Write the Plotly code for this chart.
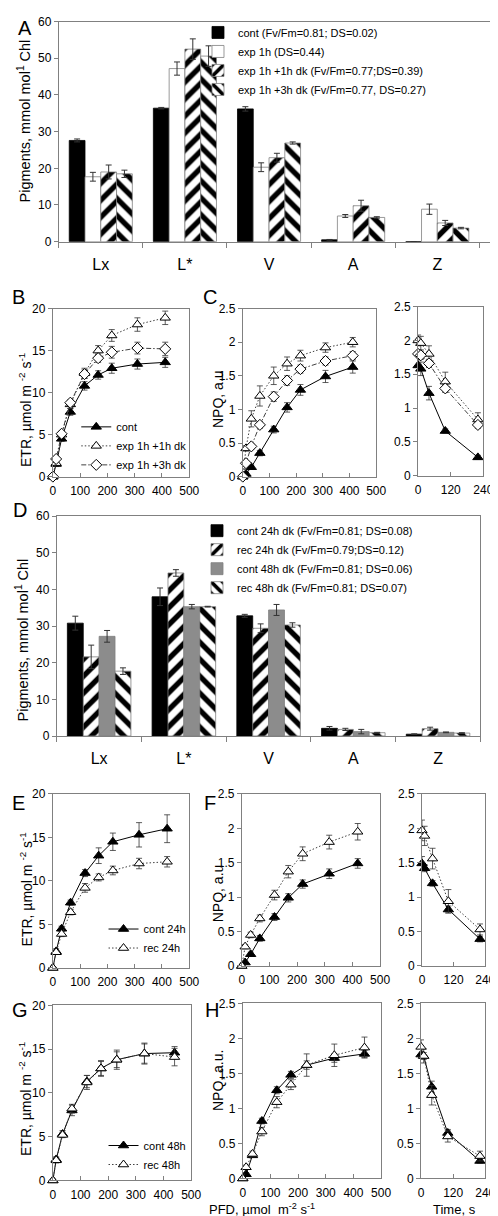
import plotly.graph_objects as go

W, H = 498, 1216

# ---------------- data ----------------
pig_cats = ["Lx", "L*", "V", "A", "Z"]

A_names = ["cont (Fv/Fm=0.81; DS=0.02)", "exp 1h (DS=0.44)",
           "exp 1h +1h dk (Fv/Fm=0.77;DS=0.39)", "exp 1h +3h dk (Fv/Fm=0.77, DS=0.27)"]
A_cont = [27.6, 36.4, 36.2, 0.5, 0.0]
A_cont_err = [0.4, 0.2, 0.6, 0.1, 0.0]
A_exp = [17.7, 47.2, 20.3, 7.0, 8.85]
A_exp_err = [1.2, 1.8, 1.2, 0.4, 1.4]
A_exp1 = [19.0, 52.5, 22.9, 9.8, 5.1]
A_exp1_err = [1.9, 2.8, 1.2, 1.5, 0.7]
A_exp3 = [18.5, 50.6, 26.9, 6.6, 3.7]
A_exp3_err = [1.0, 2.8, 0.3, 0.2, 0.2]

D_names = ["cont 24h dk (Fv/Fm=0.81; DS=0.08)", "rec 24h dk (Fv/Fm=0.79;DS=0.12)",
           "cont 48h dk (Fv/Fm=0.81; DS=0.06)", "rec 48h dk (Fv/Fm=0.81; DS=0.07)"]
D_cont24 = [30.8, 38.0, 32.8, 2.1, 0.5]
D_cont24_err = [1.9, 2.4, 0.4, 0.5, 0.1]
D_rec24 = [21.6, 44.5, 29.4, 1.8, 2.0]
D_rec24_err = [3.2, 0.9, 1.2, 0.3, 0.4]
D_cont48 = [27.2, 35.3, 34.4, 1.2, 1.0]
D_cont48_err = [1.6, 0.6, 1.5, 0.6, 0.1]
D_rec48 = [17.7, 35.3, 30.3, 0.9, 0.8]
D_rec48_err = [0.9, 0.1, 0.6, 0.1, 0.1]

# B / C
B_names = ["cont", "exp 1h +1h dk", "exp 1h +3h dk"]
pfd_B = [0, 12, 32, 64, 116, 166, 216, 310, 412]
etr_B_cont = [0, 1.5, 4.5, 7.7, 10.8, 12.1, 12.9, 13.4, 13.6]
etr_B_cont_err = [0, 0.3, 0.3, 0.4, 0.5, 0.5, 0.6, 0.6, 0.6]
etr_B_exp1 = [0, 1.6, 5.0, 8.6, 12.3, 15.0, 16.8, 18.1, 18.9]
etr_B_exp1_err = [0, 0.3, 0.3, 0.5, 0.6, 0.6, 0.7, 0.8, 0.8]
etr_B_exp3 = [0, 2.1, 5.1, 8.8, 12.2, 14.1, 14.8, 15.3, 15.2]
etr_B_exp3_err = [0, 0.2, 0.3, 0.3, 0.5, 0.5, 0.7, 0.7, 0.8]

npq_C_cont = [0, 0.04, 0.14, 0.35, 0.70, 1.03, 1.29, 1.49, 1.63]
npq_C_cont_err = [0, 0.02, 0.03, 0.04, 0.05, 0.07, 0.08, 0.09, 0.09]
npq_C_exp1 = [0, 0.42, 0.86, 1.20, 1.50, 1.68, 1.80, 1.92, 2.00]
npq_C_exp1_err = [0, 0.04, 0.12, 0.15, 0.13, 0.10, 0.08, 0.07, 0.07]
npq_C_exp3 = [0, 0.20, 0.45, 0.77, 1.19, 1.43, 1.60, 1.72, 1.80]
npq_C_exp3_err = [0, 0.03, 0.04, 0.05, 0.07, 0.07, 0.06, 0.06, 0.06]

time_C = [0, 10, 40, 100, 220]
rel_C_cont = [1.63, 1.58, 1.22, 0.66, 0.27]
rel_C_cont_err = [0.08, 0.10, 0.10, 0.03, 0.03]
rel_C_exp1 = [2.00, 1.96, 1.80, 1.39, 0.83]
rel_C_exp1_err = [0.08, 0.10, 0.12, 0.14, 0.10]
rel_C_exp3 = [1.80, 1.78, 1.66, 1.29, 0.75]
rel_C_exp3_err = [0.06, 0.06, 0.06, 0.06, 0.05]

# E / F
E_names = ["cont 24h", "rec 24h"]
pfd_E = [0, 12, 32, 65, 118, 168, 220, 316, 419]
etr_E_cont = [0, 1.9, 4.5, 7.5, 10.9, 12.9, 14.5, 15.3, 16.0]
etr_E_cont_err = [0, 0.3, 0.3, 0.3, 0.4, 0.9, 1.0, 1.4, 1.6]
etr_E_rec = [0, 1.8, 3.9, 6.4, 9.2, 10.4, 11.2, 12.0, 12.2]
etr_E_rec_err = [0, 0.2, 0.3, 0.3, 0.5, 0.4, 0.5, 0.6, 0.6]
npq_F_cont = [0, 0.05, 0.17, 0.40, 0.71, 0.99, 1.19, 1.34, 1.49]
npq_F_cont_err = [0, 0.02, 0.03, 0.04, 0.05, 0.06, 0.06, 0.07, 0.07]
npq_F_rec = [0, 0.28, 0.45, 0.69, 1.03, 1.37, 1.63, 1.80, 1.95]
npq_F_rec_err = [0, 0.03, 0.04, 0.05, 0.07, 0.09, 0.10, 0.10, 0.12]
time_F = [0, 10, 40, 100, 220]
rel_F_cont = [1.49, 1.42, 1.20, 0.82, 0.39]
rel_F_cont_err = [0.10, 0.05, 0.04, 0.05, 0.04]
rel_F_rec = [1.97, 1.89, 1.56, 0.94, 0.53]
rel_F_rec_err = [0.15, 0.14, 0.15, 0.17, 0.08]

# G / H
G_names = ["cont 48h", "rec 48h"]
pfd_G = [0, 12, 35, 69, 123, 174, 231, 331, 440]
etr_G_cont = [0, 2.4, 5.3, 8.0, 11.3, 12.8, 13.8, 14.5, 14.6]
etr_G_cont_err = [0, 0.3, 0.4, 0.6, 0.7, 0.8, 0.9, 1.1, 0.7]
etr_G_rec = [0, 2.3, 5.2, 8.2, 11.2, 12.8, 13.8, 14.5, 14.1]
etr_G_rec_err = [0, 0.3, 0.3, 0.5, 0.8, 0.9, 1.1, 1.2, 1.0]
npq_H_cont = [0, 0.06, 0.33, 0.82, 1.26, 1.48, 1.62, 1.72, 1.78]
npq_H_cont_err = [0, 0.02, 0.03, 0.04, 0.05, 0.05, 0.06, 0.06, 0.05]
npq_H_rec = [0, 0.16, 0.35, 0.67, 1.09, 1.34, 1.62, 1.76, 1.87]
npq_H_rec_err = [0, 0.03, 0.04, 0.06, 0.08, 0.07, 0.16, 0.16, 0.15]
time_H = [0, 10, 40, 100, 220]
rel_H_cont = [1.77, 1.75, 1.31, 0.65, 0.25]
rel_H_cont_err = [0.04, 0.05, 0.08, 0.05, 0.03]
rel_H_rec = [1.88, 1.75, 1.19, 0.60, 0.32]
rel_H_rec_err = [0.10, 0.10, 0.14, 0.08, 0.07]

# ---------------- helpers ----------------
def dx(a, b):
    return [a / W, b / W]

def dy(top, bottom):
    return [1 - bottom / H, 1 - top / H]

def px(x):
    return x / W

def py(y):
    return 1 - y / H

FONT = "Liberation Sans, Arial, sans-serif"
fig = go.Figure()

ERRB = dict(type="data", color="#333333", thickness=1, width=3)

def bar(name, x, y, err, xa, ya, legend, style):
    if style == "black":
        marker = dict(color="black", line=dict(color="black", width=0.8))
    elif style == "white":
        marker = dict(color="white", line=dict(color="#808080", width=0.8))
    elif style == "grey":
        marker = dict(color="#8c8c8c", line=dict(color="#808080", width=0.8))
    else:
        marker = dict(color="white", line=dict(color="#808080", width=0.8),
                      pattern=dict(shape=style, fgcolor="black", bgcolor="white",
                                   fgopacity=1, size=12, solidity=0.45))
    fig.add_trace(go.Bar(name=name, x=x, y=y, xaxis=xa, yaxis=ya, marker=marker,
                         error_y=dict(array=err, **ERRB), legend=legend, showlegend=True))

STY = {
    "cont": dict(symbol="triangle-up", size=9, color="black", line=dict(color="black", width=1)),
    "open_tri": dict(symbol="triangle-up", size=9, color="white", line=dict(color="black", width=1)),
    "diamond": dict(symbol="diamond", size=8.5, color="white", line=dict(color="black", width=1)),
}
DASH = {"cont": "solid", "open_tri": "1.5px,2px", "diamond": "5px,2px,1.5px,2px"}

def line(name, x, y, err, xa, ya, sty, legend=None):
    fig.add_trace(go.Scatter(
        name=name, x=x, y=y, xaxis=xa, yaxis=ya, mode="lines+markers",
        line=dict(color="black" if sty == "cont" else "#404040", width=1, dash=DASH[sty]),
        marker=STY[sty], cliponaxis=False,
        error_y=dict(type="data", array=err, color="#333333", thickness=0.8, width=3),
        legend=legend if legend else "legend", showlegend=legend is not None))

# ---------------- panel A ----------------
bar(A_names[0], pig_cats, A_cont, A_cont_err, "x", "y", "legend", "black")
bar(A_names[1], pig_cats, A_exp, A_exp_err, "x", "y", "legend", "white")
bar(A_names[2], pig_cats, A_exp1, A_exp1_err, "x", "y", "legend", "/")
bar(A_names[3], pig_cats, A_exp3, A_exp3_err, "x", "y", "legend", "\\")

# ---------------- panel B ----------------
line(B_names[0], pfd_B, etr_B_cont, etr_B_cont_err, "x2", "y2", "cont", "legend2")
line(B_names[1], pfd_B, etr_B_exp1, etr_B_exp1_err, "x2", "y2", "open_tri", "legend2")
line(B_names[2], pfd_B, etr_B_exp3, etr_B_exp3_err, "x2", "y2", "diamond", "legend2")
# C left
line(B_names[0], pfd_B, npq_C_cont, npq_C_cont_err, "x3", "y3", "cont")
line(B_names[1], pfd_B, npq_C_exp1, npq_C_exp1_err, "x3", "y3", "open_tri")
line(B_names[2], pfd_B, npq_C_exp3, npq_C_exp3_err, "x3", "y3", "diamond")
# C right
line(B_names[0], time_C, rel_C_cont, rel_C_cont_err, "x4", "y4", "cont")
line(B_names[1], time_C, rel_C_exp1, rel_C_exp1_err, "x4", "y4", "open_tri")
line(B_names[2], time_C, rel_C_exp3, rel_C_exp3_err, "x4", "y4", "diamond")

# ---------------- panel D ----------------
bar(D_names[0], pig_cats, D_cont24, D_cont24_err, "x5", "y5", "legend3", "black")
bar(D_names[1], pig_cats, D_rec24, D_rec24_err, "x5", "y5", "legend3", "/")
bar(D_names[2], pig_cats, D_cont48, D_cont48_err, "x5", "y5", "legend3", "grey")
bar(D_names[3], pig_cats, D_rec48, D_rec48_err, "x5", "y5", "legend3", "\\")

# ---------------- panel E / F ----------------
line(E_names[0], pfd_E, etr_E_cont, etr_E_cont_err, "x6", "y6", "cont", "legend4")
line(E_names[1], pfd_E, etr_E_rec, etr_E_rec_err, "x6", "y6", "open_tri", "legend4")
line(E_names[0], pfd_E, npq_F_cont, npq_F_cont_err, "x7", "y7", "cont")
line(E_names[1], pfd_E, npq_F_rec, npq_F_rec_err, "x7", "y7", "open_tri")
line(E_names[0], time_F, rel_F_cont, rel_F_cont_err, "x8", "y8", "cont")
line(E_names[1], time_F, rel_F_rec, rel_F_rec_err, "x8", "y8", "open_tri")

# ---------------- panel G / H ----------------
line(G_names[0], pfd_G, etr_G_cont, etr_G_cont_err, "x9", "y9", "cont", "legend5")
line(G_names[1], pfd_G, etr_G_rec, etr_G_rec_err, "x9", "y9", "open_tri", "legend5")
line(G_names[0], pfd_G, npq_H_cont, npq_H_cont_err, "x10", "y10", "cont")
line(G_names[1], pfd_G, npq_H_rec, npq_H_rec_err, "x10", "y10", "open_tri")
line(G_names[0], time_H, rel_H_cont, rel_H_cont_err, "x11", "y11", "cont")
line(G_names[1], time_H, rel_H_rec, rel_H_rec_err, "x11", "y11", "open_tri")

# ---------------- axes ----------------
AX = dict(showline=True, linecolor="#808080", linewidth=1, mirror=True, ticks="outside",
          ticklen=4, tickcolor="#808080", showgrid=False, zeroline=False,
          tickfont=dict(size=12, color="black", family=FONT))

def xax(dom, anchor, **kw):
    d = dict(AX); d.update(domain=dx(*dom), anchor=anchor); d.update(kw); return d

def yax(dom, anchor, **kw):
    d = dict(AX); d.update(domain=dy(*dom), anchor=anchor); d.update(kw); return d

cat_kw = dict(type="category", tickson="boundaries", ticklen=5,
              tickfont=dict(size=16, color="black", family=FONT), ticklabelstandoff=8)
pfd_kw = dict(range=[0, 500], dtick=100, tick0=0, ticks="inside", ticklabelstandoff=3)
time_kw = dict(range=[0, 240], tickvals=[0, 120, 240], ticks="inside", ticklabelstandoff=3)
etr_kw = dict(range=[0, 20], dtick=5)
npq_kw = dict(range=[0, 2.5], dtick=0.5)
pig_kw = dict(range=[0, 60], dtick=10)

layout = dict(
    width=W, height=H, margin=dict(l=0, r=0, t=0, b=0),
    paper_bgcolor="white", plot_bgcolor="white",
    font=dict(family=FONT, size=12, color="black"),
    barmode="group", bargap=0.25, bargroupgap=0,
    xaxis=xax((49, 493), "y", range=[-0.5, 4.64], **cat_kw),
    yaxis=yax((6.7, 229.3), "x", **pig_kw),
    xaxis2=xax((43, 183), "y2", **pfd_kw),
    yaxis2=yax((297, 467), "x2", **etr_kw),
    xaxis3=xax((238, 375), "y3", **pfd_kw),
    yaxis3=yax((297, 467), "x3", **npq_kw),
    xaxis4=xax((418, 485), "y4", **time_kw),
    yaxis4=yax((295, 466), "x4", **npq_kw),
    xaxis5=xax((47, 482), "y5", range=[-0.5, 4.5], **cat_kw),
    yaxis5=yax((507, 729.4), "x5", **pig_kw),
    xaxis6=xax((43, 183), "y6", **pfd_kw),
    yaxis6=yax((788, 964), "x6", **etr_kw),
    xaxis7=xax((237, 379), "y7", **pfd_kw),
    yaxis7=yax((788, 962), "x7", **npq_kw),
    xaxis8=xax((422, 487), "y8", **time_kw),
    yaxis8=yax((788, 962), "x8", **npq_kw),
    xaxis9=xax((43, 185), "y9", **pfd_kw),
    yaxis9=yax((1002, 1179), "x9", **etr_kw),
    xaxis10=xax((238, 380), "y10", **pfd_kw),
    yaxis10=yax((1000, 1177), "x10", **npq_kw),
    xaxis11=xax((421, 487), "y11", **time_kw),
    yaxis11=yax((1000, 1177), "x11", **npq_kw),
)

LEG = dict(bgcolor="rgba(0,0,0,0)", borderwidth=0, font=dict(size=11, family=FONT, color="black"),
           xanchor="left", yanchor="top", itemwidth=30, tracegroupgap=0, traceorder="normal",
           itemclick=False)
layout["legend"] = dict(LEG, x=px(192), y=py(3))
layout["legend2"] = dict(LEG, x=px(67), y=py(402))
layout["legend3"] = dict(LEG, x=px(191), y=py(507))
layout["legend4"] = dict(LEG, x=px(95), y=py(910))
layout["legend5"] = dict(LEG, x=px(95), y=py(1129))

ann = []
def label(t, x, y, size=21, angle=0):
    ann.append(dict(text=t, x=px(x), y=py(y), xref="paper", yref="paper", showarrow=False,
                    xanchor="center", yanchor="middle", textangle=angle,
                    font=dict(size=size, family=FONT, color="black")))

for t, x, y in [("A", 14, 13), ("B", 8, 285), ("C", 204, 285), ("D", 9, 501),
                ("E", 8, 797), ("F", 204, 797), ("G", 9, 1007), ("H", 206, 1007)]:
    label(t, x, y, 20)

pig_title = "Pigments, mmol mol<sup>1</sup> Chl"
etr_title = "ETR, µmol m <sup>-2</sup> s<sup>-1</sup>"
label(pig_title, 13, 107, 14.5, -90)
label(pig_title, 11, 632, 14.5, -90)
label(etr_title, 15, 400, 14, -90)
label(etr_title, 15, 885, 14, -90)
label(etr_title, 15, 1097, 14, -90)
label("NPQ, a.u", 212, 388, 14, -90)
label("NPQ, a.u", 212, 888, 14, -90)
label("NPQ, a.u.", 212, 1078, 14, -90)
label("PFD, µmol  m<sup>-2</sup> s<sup>-1</sup>", 258, 1208, 13)
label("Time, s", 455, 1208, 13)
layout["annotations"] = ann

fig.update_layout(**layout)
fig.write_html("out.html")
